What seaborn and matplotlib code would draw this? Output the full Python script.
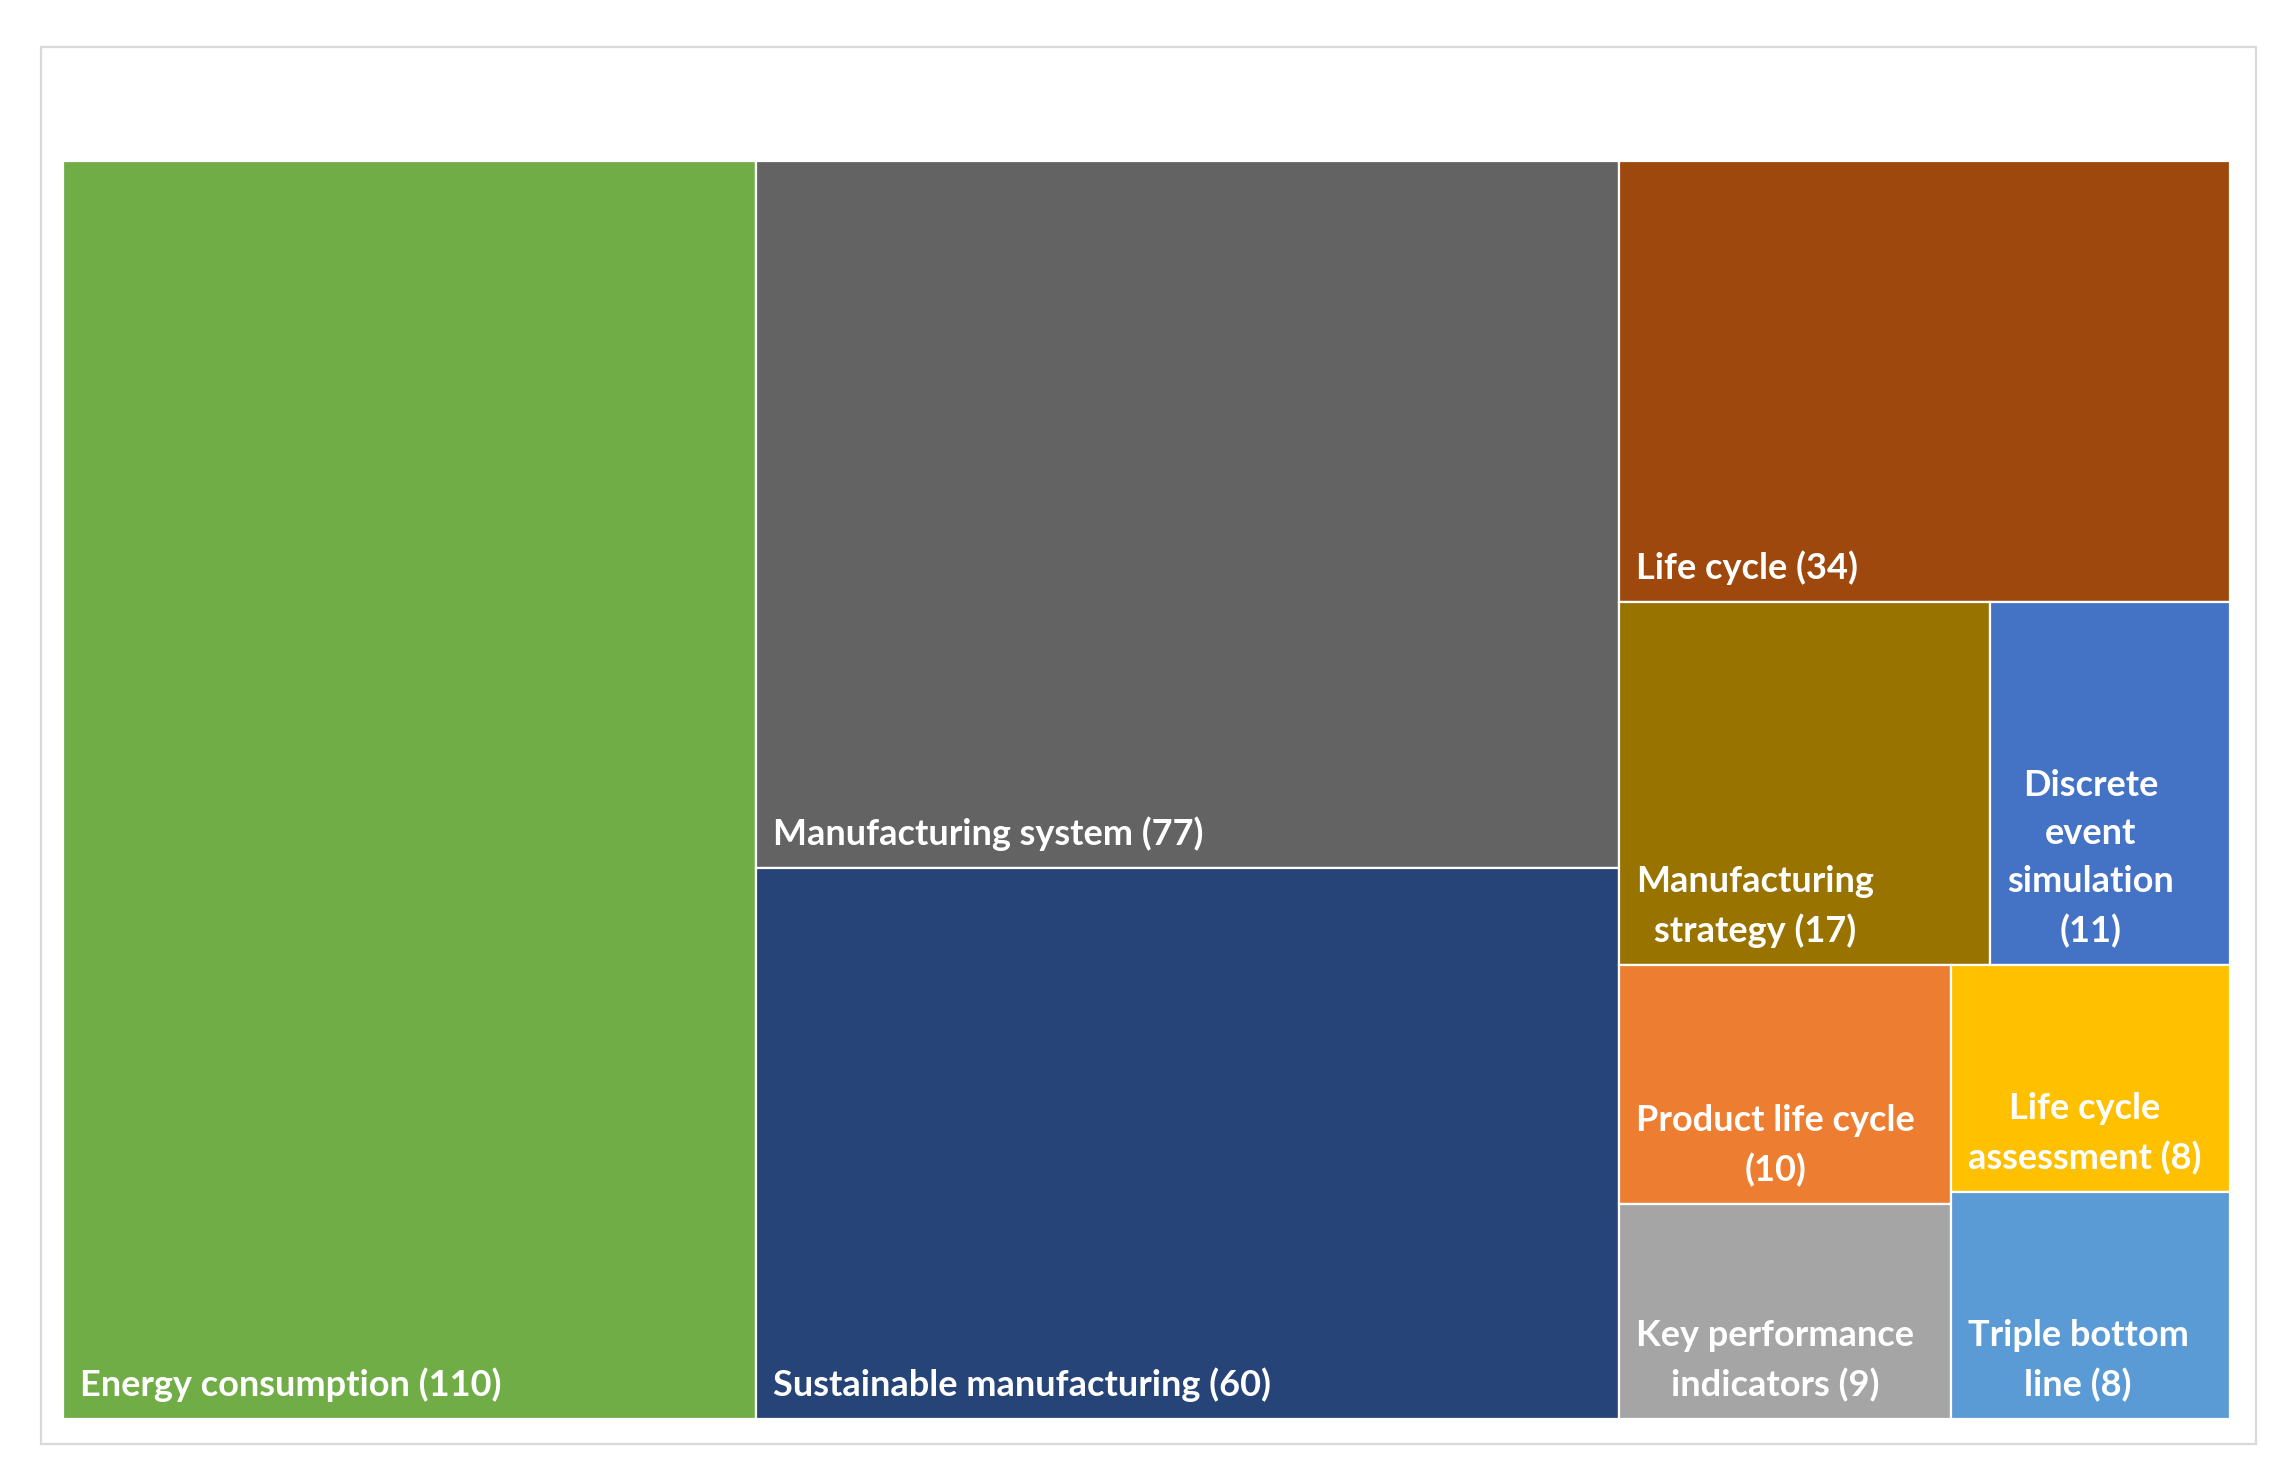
import matplotlib
matplotlib.use("Agg")
import matplotlib.pyplot as plt
import seaborn as sns
from matplotlib.patches import Rectangle

# ---- data ----
categories = ["Energy consumption", "Manufacturing system", "Sustainable manufacturing",
              "Life cycle", "Manufacturing strategy", "Discrete event simulation",
              "Product life cycle", "Key performance indicators", "Life cycle assessment",
              "Triple bottom line"]
counts = [110, 77, 60, 34, 17, 11, 10, 9, 8, 8]
# label texts as wrapped in the reference
labels = ["Energy consumption (110)",
          "Manufacturing system (77)",
          "Sustainable manufacturing (60)",
          "Life cycle (34)",
          "Manufacturing\nstrategy (17)",
          "Discrete\nevent\nsimulation\n(11)",
          "Product life cycle\n(10)",
          "Key performance\nindicators (9)",
          "Life cycle\nassessment (8)",
          "Triple bottom\nline (8)"]
colors = ["#70AD47", "#636363", "#264478", "#9E480E", "#997300",
          "#4472C4", "#ED7D31", "#A5A5A5", "#FFC000", "#5B9BD5"]


def worst(row, w):
    s = sum(row)
    return max(max(w * w * r / (s * s), s * s / (w * w * r)) for r in row)


def squarify(vals, x, y, dx, dy):
    rects = []
    vals = list(vals)
    while vals:
        w = min(dx, dy)
        row = [vals[0]]
        i = 1
        while i < len(vals) and worst(row + [vals[i]], w) <= worst(row, w):
            row.append(vals[i])
            i += 1
        s = sum(row)
        if dx >= dy:
            cw = s / dy
            yy = y
            for r in row:
                h = r / cw
                rects.append((x, yy, cw, h))
                yy += h
            x += cw
            dx -= cw
        else:
            rh = s / dx
            xx = x
            for r in row:
                ww = r / rh
                rects.append((xx, y, ww, rh))
                xx += ww
            y += rh
            dy -= rh
        vals = vals[i:]
    return rects


sns.set_theme(style="white")
plt.rcParams['font.family'] = ['Lato', 'DejaVu Sans']

FW, FH = 2295, 1481
fig = plt.figure(figsize=(FW / 100, FH / 100), dpi=100)
fig.patch.set_facecolor("white")

# outer light-grey frame
fig.patches.append(Rectangle((41 / FW, 1 - 1444 / FH), (2256 - 41) / FW, (1444 - 47) / FH,
                             transform=fig.transFigure, fill=False,
                             edgecolor="#D9D9D9", linewidth=1.6, zorder=0))

L, T, R, B = 63, 161, 2230, 1419
W, H = R - L, B - T
ax = fig.add_axes([L / FW, 1 - B / FH, W / FW, H / FH])
ax.set_xlim(0, W)
ax.set_ylim(H, 0)
ax.axis("off")

total = sum(counts)
areas = [v * W * H / total for v in counts]
rects = squarify(areas, 0, 0, W, H)

for lab, col, (x, y, w, h) in zip(labels, colors, rects):
    ax.add_patch(Rectangle((x, y), w, h, facecolor=col, edgecolor="white",
                           linewidth=1.6))
    ax.annotate(lab, xy=(x, y + h), xytext=(17, 17), textcoords="offset pixels",
                ha="left", va="bottom", multialignment="center", color="white",
                fontsize=26, fontweight="bold", linespacing=1.55)

fig.savefig("out.png", dpi=100, facecolor="white")
